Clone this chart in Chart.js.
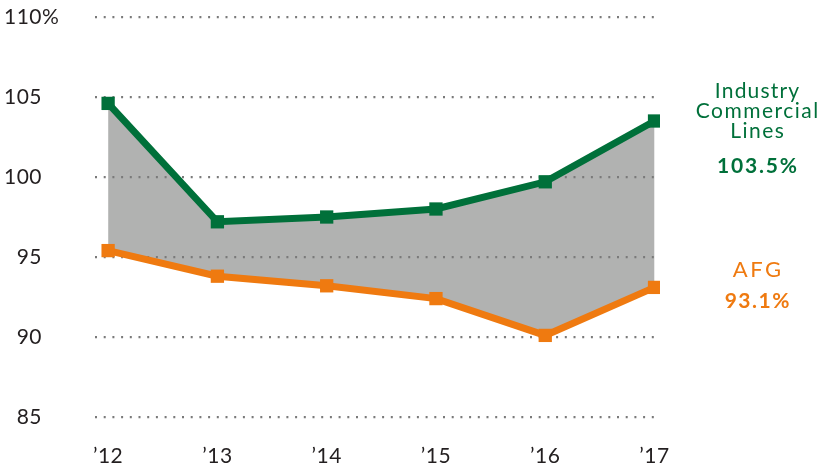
<!DOCTYPE html>
<html>
<head>
<meta charset="utf-8">
<script src="https://cdn.jsdelivr.net/npm/chart.js@4.4.1/dist/chart.umd.min.js"></script>
<style>
  html, body { margin: 0; padding: 0; background: #fff; }
</style>
</head>
<body>
<canvas id="ratioChart" width="827" height="470"></canvas>
<script>
const years = ["\u201912", "\u201913", "\u201914", "\u201915", "\u201916", "\u201917"];
const industry = [104.6, 97.2, 97.5, 98.0, 99.7, 103.5];
const afg = [95.4, 93.8, 93.2, 92.4, 90.1, 93.1];
const yTicks = [85, 90, 95, 100, 105, 110];

const GREEN = "#00703a";
const ORANGE = "#ef7a10";
const FONT = "Lato";

// axis + side labels drawn by hand
const labelsPlugin = {
  id: "labels",
  afterDraw(chart) {
    const ctx = chart.ctx;
    const xs = chart.scales.x;
    const ys = chart.scales.y;
    ctx.save();
    ctx.fillStyle = "#231f20";
    ctx.font = `21px ${FONT}`;
    ctx.textBaseline = "middle";
    ctx.letterSpacing = "0.5px";
    yTicks.forEach((v) => {
      const y = ys.getPixelForValue(v);
      ctx.textAlign = "right";
      ctx.fillText(String(v), 42, y);
      if (v === yTicks[yTicks.length - 1]) {
        ctx.textAlign = "left";
        ctx.fillText("%", 42, y);
      }
    });
    ctx.textAlign = "center";
    years.forEach((yr, i) => {
      ctx.fillText(yr, xs.getPixelForValue(i), 456);
    });

    // series callouts
    const cx = 757;
    const line = (txt, y, bold, spacing, size) => {
      ctx.font = `${bold ? "bold " : ""}${size || 21}px ${FONT}`;
      ctx.letterSpacing = spacing + "px";
      ctx.fillText(txt, cx + spacing / 2, y);
    };
    ctx.fillStyle = GREEN;
    line("Industry", 91, false, 1.2);
    line("Commercial", 111, false, 1.5);
    line("Lines", 131, false, 1.5);
    line(industry[industry.length - 1].toFixed(1) + "%", 166, true, 1.8);
    ctx.fillStyle = ORANGE;
    line("AFG", 270, false, 2.5, 22);
    line(afg[afg.length - 1].toFixed(1) + "%", 301, true, 1.5);
    ctx.restore();
  },
};

new Chart(document.getElementById("ratioChart"), {
  type: "line",
  data: {
    datasets: [
      {
        label: "Industry Commercial Lines",
        data: industry.map((v, i) => ({ x: i, y: v })),
        borderColor: GREEN,
        backgroundColor: "#b1b2b1",
        pointBackgroundColor: GREEN,
        fill: "+1",
      },
      {
        label: "AFG",
        data: afg.map((v, i) => ({ x: i, y: v })),
        borderColor: ORANGE,
        pointBackgroundColor: ORANGE,
        fill: false,
      },
    ],
  },
  options: {
    responsive: false,
    animation: false,
    layout: { padding: { left: 95, right: 167, top: 17, bottom: 53 } },
    elements: {
      line: { borderWidth: 7, tension: 0 },
      point: { pointStyle: "rect", radius: 9.4, borderWidth: 0 },
    },
    scales: {
      x: {
        type: "linear",
        min: -0.12,
        max: 5.05,
        grid: { display: false, drawTicks: false },
        border: { display: false },
        ticks: { display: false },
      },
      y: {
        min: 85,
        max: 110,
        afterBuildTicks: (scale) => {
          scale.ticks = yTicks.map((v) => ({ value: v }));
        },
        grid: { color: "#7a7a7a", lineWidth: 2.2, drawTicks: false },
        border: { display: false, dash: [2, 6.7] },
        ticks: { display: false },
      },
    },
    plugins: {
      legend: { display: false },
      tooltip: { enabled: false },
      filler: { drawTime: "beforeDraw" },
    },
  },
  plugins: [labelsPlugin],
});
</script>
</body>
</html>
